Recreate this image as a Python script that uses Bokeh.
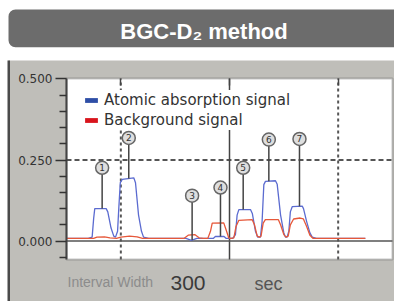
import numpy as np
from bokeh.plotting import figure
from bokeh.models import (Range1d, LinearAxis, FixedTicker, PrintfTickFormatter,
                          Label, BoxAnnotation, Legend, LegendItem, ColumnDataSource)
from bokeh.embed import file_html
from bokeh.resources import INLINE
from bokeh.core.properties import value

# ---------------- data ----------------
title_text = "BGC-D\u2082 method"
series_names = ["Atomic absorption signal", "Background signal"]

# atomic absorption signal (blue)
time_blue = [0, 20, 23.6, 25, 26.0, 36.5, 38, 41, 43.5, 45.1, 47, 48.1, 49.5, 51.3, 61.9, 63.5,
             66.3, 69, 70.9, 75.7, 110, 115, 120, 135, 137, 145, 147, 153, 155.5, 157, 158.6,
             169.3, 171, 173.9, 176, 178.5, 180, 181.6, 183.1, 192.3, 193.9, 197, 200, 201.5,
             203, 204.6, 206, 207.7, 216.9, 218.1, 221, 224, 226.1, 230, 275]
blue = [0.008, 0.008, 0.012, 0.07, 0.10, 0.10, 0.09, 0.04, 0.015, 0.012, 0.03, 0.10, 0.18, 0.19,
        0.195, 0.18, 0.08, 0.03, 0.012, 0.008, 0.008, 0.002, 0.008, 0.008, 0.014, 0.014, 0.008,
        0.008, 0.02, 0.08, 0.097, 0.097, 0.085, 0.03, 0.012, 0.012, 0.06, 0.174, 0.184, 0.186,
        0.175, 0.08, 0.025, 0.012, 0.012, 0.03, 0.09, 0.106, 0.108, 0.10, 0.06, 0.025, 0.012,
        0.008, 0.008]

# background signal (red)
time_red = [0, 25, 28, 35, 40, 46, 50, 58, 65, 70, 108, 112, 118, 122, 126, 130, 132.5, 134.1,
            144.7, 146.3, 149.3, 151, 154, 156, 158.6, 170.9, 173, 175.5, 177.5, 179, 181, 183,
            195, 197, 200, 202, 204, 206, 209, 215, 218, 221, 224, 227, 275]
red = [0.008, 0.008, 0.012, 0.013, 0.010, 0.008, 0.012, 0.015, 0.013, 0.008, 0.008, 0.018, 0.02,
       0.01, 0.008, 0.008, 0.03, 0.055, 0.056, 0.04, 0.01, 0.008, 0.01, 0.045, 0.064, 0.066, 0.05,
       0.015, 0.012, 0.015, 0.055, 0.066, 0.066, 0.05, 0.02, 0.012, 0.015, 0.05, 0.068, 0.071,
       0.068, 0.045, 0.018, 0.008, 0.008]

callout_labels = ["1", "2", "3", "4", "5", "6", "7"]
callout_x = [32.8, 57.3, 115.6, 141.7, 162.6, 186.2, 214.4]
callout_y = [0.226, 0.318, 0.14, 0.165, 0.226, 0.313, 0.315]

y_ticks = [0.0, 0.25, 0.5]
y_minor_ticks = [-0.05, 0.05, 0.1, 0.15, 0.2, 0.3, 0.35, 0.4, 0.45]
top_ticks = [50, 150, 250]
grid_x = [50, 250]
grid_y = [0.25]
cursor_x = [150]
interval_label = "Interval Width"
interval_value = "300"
interval_unit = "sec"

# ---------------- layout (page pixels of the plot box -> data units) ----------------
X0, X1 = 0, 300
Y0, Y1 = -0.057, 0.5015
PL, PR, PT, PB = 66, 392, 78, 259
W, H = 394, 301


def px(v):
    return X0 + (v - PL) * (X1 - X0) / (PR - PL)


def py(v):
    return Y1 - (v - PT) * (Y1 - Y0) / (PB - PT)


p = figure(width=W, height=H, x_range=Range1d(px(0), px(W)), y_range=Range1d(py(H), py(0)),
           output_backend="svg", toolbar_location=None, min_border=0,
           x_axis_location=None, y_axis_location=None, outline_line_color=None,
           background_fill_color="white", border_fill_color="white")
p.grid.visible = False

# grey panel, its dark left edge, title bar and white plot box
p.add_layout(BoxAnnotation(left=px(8), right=px(W + 20), top=py(60), bottom=py(H + 20),
                           fill_color="#bfbeb9", fill_alpha=1, line_color=None, level="underlay"))
p.add_layout(BoxAnnotation(left=px(7), right=px(9.5), top=py(60), bottom=py(H + 20),
                           fill_color="#4a4a4a", fill_alpha=1, line_color=None, level="underlay"))
p.add_layout(BoxAnnotation(left=px(8), right=px(W + 30), top=py(9), bottom=py(46.7),
                           fill_color="#6c6c6c", fill_alpha=1, line_color=None, border_radius=7,
                           level="underlay"))
p.add_layout(BoxAnnotation(left=X0, right=X1, top=Y1, bottom=Y0, fill_color="white",
                           fill_alpha=1, line_color="#444444", line_width=2, level="underlay"))
p.add_layout(Label(x=px(203.5), y=py(30.7), text=title_text, text_align="center",
                   text_baseline="alphabetic", text_color="white",
                   text_font="Liberation Sans", text_font_style="bold", text_font_size="22px"))

# y axis (fixed on the left edge of the plot box)
ya = LinearAxis(fixed_location=X0, bounds=(Y0, Y1),
                ticker=FixedTicker(ticks=y_ticks, minor_ticks=y_minor_ticks),
                formatter=PrintfTickFormatter(format="%.3f"),
                major_tick_out=11, major_tick_in=0, minor_tick_out=7, minor_tick_in=0,
                axis_line_color="#444444", axis_line_width=2,
                major_tick_line_color="#333333", major_tick_line_width=1.5,
                minor_tick_line_color="#333333", minor_tick_line_width=1.5,
                major_label_standoff=3, major_label_text_font="DejaVu Sans",
                major_label_text_font_size="12px", major_label_text_color="#333333")
p.add_layout(ya, "left")

# top tick marks
ta = LinearAxis(fixed_location=Y1, bounds=(X0, X1), ticker=FixedTicker(ticks=top_ticks),
                major_tick_in=7, major_tick_out=0, minor_tick_in=0, minor_tick_out=0,
                axis_line_color=None, major_label_text_color=None,
                major_tick_line_color="#444444", major_tick_line_width=1.5)
p.add_layout(ta, "above")

# dashed grid lines, cursor line and zero line
p.segment(x0=grid_x, y0=[Y0] * len(grid_x), x1=grid_x, y1=[Y1] * len(grid_x),
          line_color="#555555", line_width=2, line_dash="3 3")
p.segment(x0=[X0] * len(grid_y), y0=grid_y, x1=[X1] * len(grid_y), y1=grid_y,
          line_color="#555555", line_width=2, line_dash="5 3")
p.segment(x0=cursor_x, y0=[Y0], x1=cursor_x, y1=[Y1], line_color="#444444", line_width=1.5)
p.segment(x0=[X0], y0=[0], x1=[X1], y1=[0], line_color="#555555", line_width=1.5)

p.line(time_blue, blue, line_color="#5b6bd0", line_width=1.3)
p.line(time_red, red, line_color="#e6583a", line_width=1.3)

src = ColumnDataSource(dict(x=callout_x, y=callout_y, label=callout_labels,
                            y_end=np.interp(callout_x, time_blue, blue)))
p.segment(x0="x", y0="y", x1="x", y1="y_end", source=src, line_color="#444444", line_width=1.5)
p.scatter("x", "y", source=src, size=13, fill_color="#dedede", line_color="#666666",
          line_width=1.5, level="overlay")
p.text("x", "y", text="label", source=src, text_align="center", text_baseline="middle",
       text_font_size="9px", text_color="#333333", text_font=value("DejaVu Sans"),
       level="overlay")

nan = [np.nan]
rb = p.quad(left=nan, right=nan, top=nan, bottom=nan, fill_color="#2e4ea6", line_color=None)
rr = p.quad(left=nan, right=nan, top=nan, bottom=nan, fill_color="#d8141c", line_color=None)
legend = Legend(items=[LegendItem(label=series_names[0], renderers=[rb]),
                       LegendItem(label=series_names[1], renderers=[rr])],
                location=(83, 171.5), glyph_width=16, glyph_height=6, label_standoff=5,
                label_height=20, spacing=0, padding=0, margin=0,
                label_text_font="DejaVu Sans", label_text_font_size="15px",
                label_text_color="#333333", background_fill_color="white",
                background_fill_alpha=1, border_line_color=None)
p.add_layout(legend)

p.add_layout(Label(x=px(67), y=py(281), text=interval_label, text_baseline="middle",
                   text_font="Liberation Sans", text_font_size="14px", text_color="#8c8c8c"))
p.add_layout(Label(x=px(170), y=py(282), text=interval_value, text_baseline="middle",
                   text_font="Liberation Sans", text_font_size="21px", text_color="#3a3a3a"))
p.add_layout(Label(x=px(254), y=py(283), text=interval_unit, text_baseline="middle",
                   text_font="Liberation Sans", text_font_size="18px", text_color="#555555"))

open("out.html", "w").write(file_html(p, INLINE))
